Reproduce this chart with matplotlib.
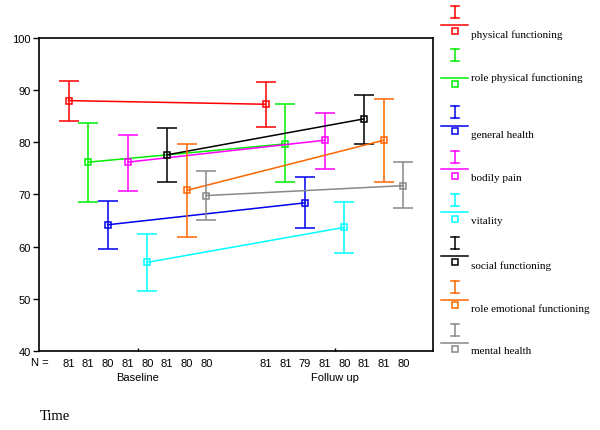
import matplotlib
matplotlib.use("Agg")
import matplotlib.pyplot as plt
from matplotlib.lines import Line2D
import numpy as np

series = ["physical functioning", "role physical functioning", "general health",
          "bodily pain", "vitality", "social functioning",
          "role emotional functioning", "mental health"]
colors = ["#ff0000", "#00ee00", "#0000ee", "#ff00ff", "#00ffff", "#000000",
          "#ff6600", "#888888"]
groups = ["Baseline", "Folluw up"]
mean_base = [88.0, 76.2, 64.2, 76.2, 57.0, 77.6, 70.8, 69.8]
low_base = [84.0, 68.6, 59.5, 70.6, 51.5, 72.4, 61.9, 65.1]
high_base = [91.8, 83.7, 68.8, 81.5, 62.4, 82.8, 79.7, 74.6]
mean_fu = [87.3, 79.7, 68.4, 80.4, 63.7, 84.5, 80.4, 71.7]
low_fu = [82.9, 72.4, 63.5, 74.9, 58.8, 79.7, 72.4, 67.5]
high_fu = [91.6, 87.3, 73.3, 85.7, 68.6, 89.0, 88.4, 76.2]
n_base = ["81", "81", "80", "81", "80", "81", "80", "80"]
n_fu = ["81", "81", "79", "81", "80", "81", "81", "80"]

W, H = 600, 431
fig = plt.figure(figsize=(W / 100, H / 100), dpi=100)
ax = fig.add_axes([39 / W, 1 - 352 / H, (433 - 39) / W, (352 - 39) / H])

sans = ["Liberation Sans", "DejaVu Sans"]
serif = ["Liberation Serif", "DejaVu Serif"]

offsets = (np.arange(len(series)) - 3.5) * 0.1
xb = 1 + offsets
xf = 2 + offsets
for i, c in enumerate(colors):
    xs = [xb[i], xf[i]]
    ms = [mean_base[i], mean_fu[i]]
    lo = [mean_base[i] - low_base[i], mean_fu[i] - low_fu[i]]
    hi = [high_base[i] - mean_base[i], high_fu[i] - mean_fu[i]]
    ax.errorbar(xs, ms, yerr=[lo, hi], fmt="none", ecolor=c, elinewidth=1.1,
                capsize=7.5, capthick=1.1)
    ax.plot(xs, ms, color=c, lw=1.1, marker="s", markersize=5,
            markerfacecolor="none", markeredgecolor=c, markeredgewidth=1.1)

ax.set_xlim(0.5, 2.5)
ax.set_ylim(40, 100)
ax.set_yticks([40, 50, 60, 70, 80, 90, 100])
ax.tick_params(axis="y", direction="out", length=4, width=1, labelsize=8, pad=2)
for lab in ax.get_yticklabels():
    lab.set_family(sans)

xt = list(xb) + list(xf)
ax.set_xticks(xt)
ax.set_xticklabels(n_base + n_fu, fontsize=8, family=sans)
ax.tick_params(axis="x", length=0, pad=5)
ax.set_xticks([1, 2], minor=True)
ax.tick_params(axis="x", which="minor", direction="in", length=2, width=1)
for sp in ax.spines.values():
    sp.set_linewidth(1.2)

ax.text(0.47 * 0 + (31 - 39) / 394 + 0.0, -0.019, "N =", transform=ax.transAxes,
        ha="left", va="top", fontsize=8, family=sans)
for g, x in zip(groups, [1, 2]):
    ax.text(x, -0.066, g, transform=ax.get_xaxis_transform(), ha="center",
            va="top", fontsize=8, family=sans)

fig.text(40 / W, 1 - 417 / H, "Time", ha="left", va="center", fontsize=10.5,
         family=serif)

# Legend drawn in pixel coordinates
lg = fig.add_axes([0, 0, 1, 1], zorder=5)
lg.set_xlim(0, W)
lg.set_ylim(H, 0)
lg.axis("off")
i_tops = [7, 50, 107, 152, 195, 238, 282, 325]
lines_y = [26, 79, 127, 170, 213, 257, 301, 344]
sq_y = [32, 85, 132, 177, 220, 263, 306, 350]
txt_y = [35, 78, 136, 179, 222, 266, 309, 352]
for i, c in enumerate(colors):
    t = i_tops[i]
    lg.add_line(Line2D([455, 455], [t, t + 12], color=c, lw=1.1))
    lg.add_line(Line2D([451, 459], [t, t], color=c, lw=1.1))
    lg.add_line(Line2D([451, 459], [t + 12, t + 12], color=c, lw=1.1))
    lg.add_line(Line2D([441, 468], [lines_y[i], lines_y[i]], color=c, lw=1.1))
    lg.plot([455], [sq_y[i]], marker="s", markersize=4.5, markerfacecolor="none",
            markeredgecolor=c, markeredgewidth=1.1)
    lg.text(471, txt_y[i], series[i], ha="left", va="center", fontsize=8,
            family=serif)

fig.savefig("out.png", dpi=100)
